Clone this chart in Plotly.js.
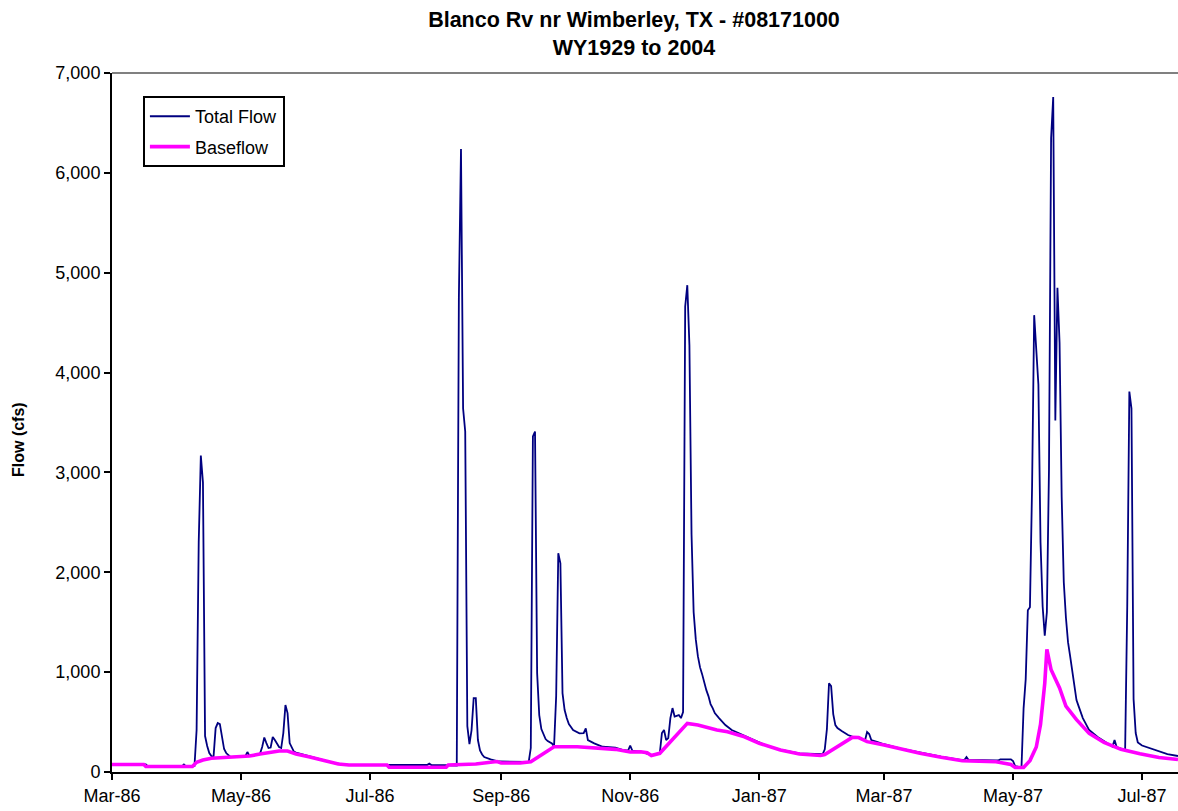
<!DOCTYPE html>
<html>
<head>
<meta charset="utf-8">
<script src="https://cdn.plot.ly/plotly-3.0.1.min.js"></script>
<style>html,body{margin:0;padding:0;background:#fff;}#chart{width:1178px;height:811px;}</style>
</head>
<body>
<div id="chart"></div>
<script>
// Total flow (cfs) – daily values
const totalDates = [
'1986-03-01','1986-03-17','1986-03-18','1986-04-03','1986-04-04','1986-04-05','1986-04-09','1986-04-10','1986-04-11','1986-04-12',
'1986-04-13','1986-04-14','1986-04-15','1986-04-16','1986-04-17','1986-04-18','1986-04-19','1986-04-20','1986-04-21','1986-04-22',
'1986-04-23','1986-04-24','1986-04-25','1986-04-26','1986-05-03','1986-05-04','1986-05-05','1986-05-10','1986-05-11','1986-05-12',
'1986-05-13','1986-05-14','1986-05-15','1986-05-16','1986-05-17','1986-05-18','1986-05-19','1986-05-20','1986-05-21','1986-05-22',
'1986-05-23','1986-05-24','1986-05-25','1986-05-26','1986-05-27','1986-05-29','1986-05-31','1986-06-03','1986-06-09','1986-06-13',
'1986-06-17','1986-06-21','1986-07-09','1986-07-10','1986-07-28','1986-07-29','1986-07-30','1986-08-11','1986-08-12','1986-08-13',
'1986-08-14','1986-08-15','1986-08-16','1986-08-17','1986-08-18','1986-08-19','1986-08-20','1986-08-21','1986-08-22','1986-08-23',
'1986-08-24','1986-08-27','1986-08-31','1986-09-14','1986-09-15','1986-09-16','1986-09-17','1986-09-18','1986-09-19','1986-09-20',
'1986-09-21','1986-09-22','1986-09-23','1986-09-25','1986-09-26','1986-09-27','1986-09-28','1986-09-29','1986-09-30','1986-10-01',
'1986-10-02','1986-10-03','1986-10-04','1986-10-05','1986-10-08','1986-10-10','1986-10-11','1986-10-12','1986-10-15','1986-10-19',
'1986-10-25','1986-10-28','1986-10-31','1986-11-01','1986-11-02','1986-11-06','1986-11-11','1986-11-15','1986-11-16','1986-11-17',
'1986-11-18','1986-11-19','1986-11-20','1986-11-21','1986-11-22','1986-11-23','1986-11-24','1986-11-25','1986-11-26','1986-11-27',
'1986-11-28','1986-11-29','1986-11-30','1986-12-01','1986-12-02','1986-12-03','1986-12-04','1986-12-05','1986-12-06','1986-12-07',
'1986-12-08','1986-12-09','1986-12-10','1986-12-11','1986-12-13','1986-12-16','1986-12-19','1986-12-25','1987-01-01','1987-01-05',
'1987-01-11','1987-01-20','1987-01-31','1987-02-01','1987-02-02','1987-02-03','1987-02-04','1987-02-05','1987-02-06','1987-02-07',
'1987-02-09','1987-02-12','1987-02-14','1987-02-17','1987-02-20','1987-02-21','1987-02-22','1987-02-23','1987-02-26','1987-03-01',
'1987-03-09','1987-03-18','1987-03-28','1987-04-07','1987-04-08','1987-04-09','1987-04-10','1987-04-23','1987-04-24','1987-04-25',
'1987-04-30','1987-05-01','1987-05-02','1987-05-05','1987-05-06','1987-05-07','1987-05-08','1987-05-09','1987-05-10','1987-05-11',
'1987-05-12','1987-05-13','1987-05-14','1987-05-15','1987-05-16','1987-05-17','1987-05-18','1987-05-19','1987-05-20','1987-05-21',
'1987-05-22','1987-05-23','1987-05-24','1987-05-25','1987-05-26','1987-05-27','1987-05-28','1987-05-29','1987-05-30','1987-05-31',
'1987-06-01','1987-06-02','1987-06-03','1987-06-04','1987-06-06','1987-06-10','1987-06-13','1987-06-17','1987-06-18','1987-06-19',
'1987-06-21','1987-06-23','1987-06-24','1987-06-25','1987-06-26','1987-06-27','1987-06-28','1987-06-29','1987-07-01','1987-07-05',
'1987-07-09','1987-07-13','1987-07-18'
];
const totalFlow = [
75,75,55,55,75,55,60,420,2300,3170,
2900,360,260,190,160,150,440,490,480,330,
230,190,165,150,157,200,160,185,250,345,
290,240,245,350,320,280,250,240,390,670,
590,290,240,205,195,185,170,153,120,93,
80,70,70,70,70,85,70,65,4750,6240,
3640,3410,460,280,420,740,740,320,215,175,
150,126,105,100,240,3360,3410,990,570,430,
370,330,310,285,255,760,2190,2090,790,620,
540,480,450,420,387,390,437,320,287,253,
245,225,215,265,215,205,170,190,390,420,
320,340,540,640,555,560,570,540,600,4660,
4875,4274,2380,1600,1330,1160,1050,980,890,820,
760,680,640,590,540,470,420,365,300,260,
225,187,180,227,430,888,860,580,470,440,
410,370,355,350,315,400,380,320,300,278,
235,195,155,120,120,150,120,115,115,127,
127,110,60,45,640,930,1620,1650,2850,4575,
4200,3880,2300,1660,1365,1600,3030,6350,6760,3520,
4850,4300,2760,1900,1550,1300,1160,1020,850,720,
660,590,540,500,420,350,310,255,320,250,
235,215,1660,3810,3640,730,390,296,265,235,
205,180,160
];

// Baseflow (cfs)
const baseDates = [
'1986-03-01','1986-03-16','1986-03-17','1986-04-08','1986-04-10','1986-04-13','1986-04-17','1986-04-25','1986-05-01','1986-05-05',
'1986-05-10','1986-05-14','1986-05-19','1986-05-23','1986-05-27','1986-06-02','1986-06-08','1986-06-13','1986-06-16','1986-06-21',
'1986-07-09','1986-07-10','1986-08-06','1986-08-07','1986-08-20','1986-08-28','1986-08-30','1986-09-01','1986-09-10','1986-09-15',
'1986-09-26','1986-10-07','1986-10-25','1986-11-01','1986-11-06','1986-11-09','1986-11-11','1986-11-15','1986-11-28','1986-12-03',
'1986-12-12','1986-12-17','1986-12-25','1987-01-01','1987-01-11','1987-01-20','1987-01-30','1987-02-01','1987-02-14','1987-02-17',
'1987-02-21','1987-03-01','1987-03-09','1987-03-18','1987-03-28','1987-04-07','1987-04-23','1987-04-27','1987-04-30','1987-05-02',
'1987-05-06','1987-05-09','1987-05-12','1987-05-14','1987-05-15','1987-05-16','1987-05-17','1987-05-19','1987-05-23','1987-05-26',
'1987-05-31','1987-06-06','1987-06-13','1987-06-21','1987-06-30','1987-07-09','1987-07-18'
];
const baseFlow = [
75,75,55,55,97,120,137,147,155,160,
180,193,210,210,180,153,120,93,80,70,
70,47,47,70,80,100,105,90,90,103,
253,253,227,200,203,193,165,187,487,470,
420,403,353,287,220,180,165,175,347,345,
304,270,227,187,147,113,103,91,75,45,
45,114,250,477,700,888,1229,1024,842,660,
524,387,296,227,182,145,125
];

const seriesNames = ['Total Flow', 'Baseflow'];
const yTickVals = [0,1000,2000,3000,4000,5000,6000,7000];

const traces = [
  {x: totalDates, y: totalFlow, type: 'scatter', mode: 'lines', name: seriesNames[0],
   legendgroup: 'g1', line: {color: '#000080', width: 1.8}},
  {x: baseDates, y: baseFlow, type: 'scatter', mode: 'lines', name: seriesNames[1],
   legendgroup: 'g2', line: {color: '#FF00FF', width: 3.6}}
];

const layout = {
  width: 1178, height: 811,
  margin: {l: 112, r: 0, t: 73, b: 39, pad: 0},
  paper_bgcolor: '#ffffff', plot_bgcolor: '#ffffff',
  font: {family: '"Liberation Sans", Arial, sans-serif', size: 18, color: '#000000'},
  title: {
    text: '<b>Blanco Rv nr Wimberley, TX - #08171000<br>WY1929 to 2004</b>',
    font: {size: 21.5, color: '#000000'},
    x: 634/1178, xref: 'container', xanchor: 'center',
    y: 1 - 27/811, yref: 'container', yanchor: 'top'
  },
  xaxis: {
    type: 'date', range: ['1986-03-01', '1987-07-18'],
    tickformat: '%b-%y', dtick: 'M2', tick0: '1986-03-01',
    ticks: 'outside', ticklen: 6, tickwidth: 2, tickcolor: '#000000',
    showline: true, linecolor: '#000000', linewidth: 2,
    showgrid: false, zeroline: false, tickfont: {size: 18}
  },
  yaxis: {
    range: [0, 7000], tickvals: yTickVals, tickformat: ',d',
    ticks: 'outside', ticklen: 6, tickwidth: 2, tickcolor: '#000000',
    showline: true, linecolor: '#000000', linewidth: 2,
    showgrid: false, zeroline: false, tickfont: {size: 18}
  },
  legend: {
    x: 0.029, y: 0.967, xanchor: 'left', yanchor: 'top',
    bgcolor: '#ffffff', bordercolor: '#000000', borderwidth: 2,
    font: {size: 18}, itemwidth: 40, tracegroupgap: 4
  },
  showlegend: true,
  annotations: [
    {text: '<b>Flow (cfs)</b>', xref: 'paper', yref: 'paper',
     x: (18 - 112) / 1066, y: (772 - 440) / 699, textangle: -90,
     xanchor: 'center', yanchor: 'middle', showarrow: false,
     font: {size: 16, color: '#000000'}}
  ],
  shapes: [
    {type: 'line', xref: 'paper', yref: 'paper', x0: 0, x1: 1, y0: 1, y1: 1,
     line: {color: '#808080', width: 2}}
  ]
};

Plotly.newPlot('chart', traces, layout, {displayModeBar: false, staticPlot: true});
</script>
</body>
</html>
